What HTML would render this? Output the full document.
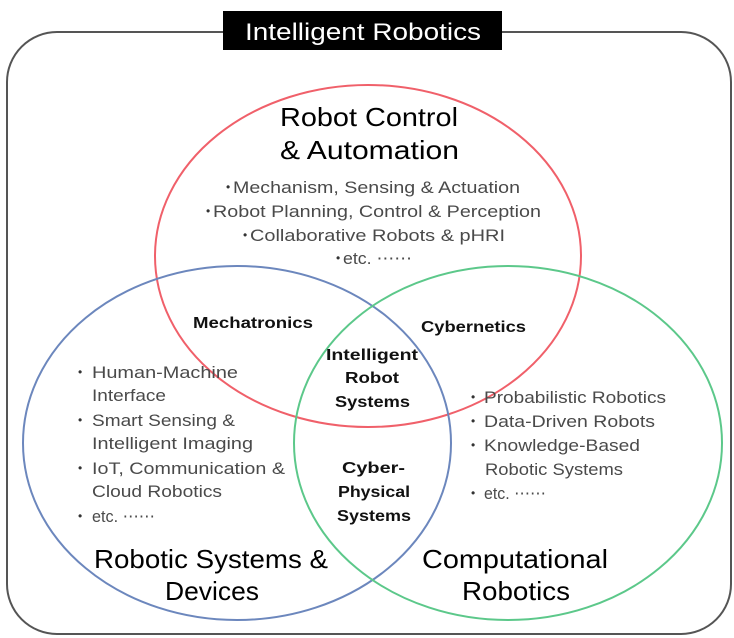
<!DOCTYPE html>
<html><head><meta charset="utf-8"><style>
html,body{margin:0;padding:0;background:#fff;}
svg{display:block;font-family:"Liberation Sans",sans-serif;}
.b{font-size:16.5px;fill:#4a4a4a;}
.d{font-size:12px;fill:#333;}
.m{font-size:16px;font-weight:bold;fill:#111;}
.h{font-size:26px;fill:#000;}
</style></head><body>
<svg width="734" height="638" viewBox="0 0 734 638" xmlns="http://www.w3.org/2000/svg">
<rect x="7" y="32" width="724" height="602" rx="50" ry="50" fill="#fff" stroke="#555" stroke-width="2"/>
<rect x="223" y="11" width="279" height="39" fill="#000"/>
<text x="245" y="40" font-size="24" fill="#fff" textLength="236" lengthAdjust="spacingAndGlyphs">Intelligent Robotics</text>
<ellipse cx="368" cy="256" rx="213" ry="171" fill="none" stroke="#f0606a" stroke-width="2"/>
<ellipse cx="237" cy="443" rx="214" ry="177" fill="none" stroke="#6c87bd" stroke-width="2"/>
<ellipse cx="508" cy="443" rx="214" ry="177" fill="none" stroke="#5cc88a" stroke-width="2"/>
<g class="h">
<text x="280" y="126" textLength="178" lengthAdjust="spacingAndGlyphs">Robot Control</text>
<text x="280" y="159" textLength="179" lengthAdjust="spacingAndGlyphs">&amp; Automation</text>
<text x="94" y="568" textLength="234" lengthAdjust="spacingAndGlyphs">Robotic Systems &amp;</text>
<text x="165" y="600" textLength="94" lengthAdjust="spacingAndGlyphs">Devices</text>
<text x="422" y="568" textLength="186" lengthAdjust="spacingAndGlyphs">Computational</text>
<text x="462" y="600" textLength="108" lengthAdjust="spacingAndGlyphs">Robotics</text>
</g>
<g class="d">
<text x="226" y="191">•</text><text x="206" y="215">•</text><text x="243" y="239">•</text><text x="336" y="262">•</text>
<text x="78" y="376">•</text><text x="78" y="424">•</text><text x="78" y="472">•</text><text x="78" y="520">•</text>
<text x="471" y="401">•</text><text x="471" y="425">•</text><text x="471" y="449">•</text><text x="471" y="497">•</text>
</g>
<g class="b">
<text x="233" y="193" textLength="287" lengthAdjust="spacingAndGlyphs">Mechanism, Sensing &amp; Actuation</text>
<text x="213" y="217" textLength="328" lengthAdjust="spacingAndGlyphs">Robot Planning, Control &amp; Perception</text>
<text x="250" y="241" textLength="255" lengthAdjust="spacingAndGlyphs">Collaborative Robots &amp; pHRI</text>
<text x="343" y="264" textLength="69" lengthAdjust="spacingAndGlyphs">etc. ⋯⋯</text>
<text x="92" y="378" textLength="146" lengthAdjust="spacingAndGlyphs">Human-Machine</text>
<text x="92" y="401" textLength="74" lengthAdjust="spacingAndGlyphs">Interface</text>
<text x="92" y="426" textLength="143" lengthAdjust="spacingAndGlyphs">Smart Sensing &amp;</text>
<text x="92" y="449" textLength="161" lengthAdjust="spacingAndGlyphs">Intelligent Imaging</text>
<text x="92" y="474" textLength="193" lengthAdjust="spacingAndGlyphs">IoT, Communication &amp;</text>
<text x="92" y="497" textLength="130" lengthAdjust="spacingAndGlyphs">Cloud Robotics</text>
<text x="92" y="522" textLength="63" lengthAdjust="spacingAndGlyphs">etc. ⋯⋯</text>
<text x="484" y="403" textLength="182" lengthAdjust="spacingAndGlyphs">Probabilistic Robotics</text>
<text x="484" y="427" textLength="171" lengthAdjust="spacingAndGlyphs">Data-Driven Robots</text>
<text x="484" y="451" textLength="156" lengthAdjust="spacingAndGlyphs">Knowledge-Based</text>
<text x="485" y="475" textLength="138" lengthAdjust="spacingAndGlyphs">Robotic Systems</text>
<text x="484" y="499" textLength="62" lengthAdjust="spacingAndGlyphs">etc. ⋯⋯</text>
</g>
<g class="m">
<text x="193" y="328" textLength="120" lengthAdjust="spacingAndGlyphs">Mechatronics</text>
<text x="421" y="332" textLength="105" lengthAdjust="spacingAndGlyphs">Cybernetics</text>
<text x="326" y="360" textLength="92" lengthAdjust="spacingAndGlyphs">Intelligent</text>
<text x="345" y="383" textLength="54" lengthAdjust="spacingAndGlyphs">Robot</text>
<text x="335" y="407" textLength="75" lengthAdjust="spacingAndGlyphs">Systems</text>
<text x="342" y="473" textLength="63" lengthAdjust="spacingAndGlyphs">Cyber-</text>
<text x="338" y="497" textLength="72" lengthAdjust="spacingAndGlyphs">Physical</text>
<text x="337" y="521" textLength="74" lengthAdjust="spacingAndGlyphs">Systems</text>
</g>
</svg>
</body></html>
